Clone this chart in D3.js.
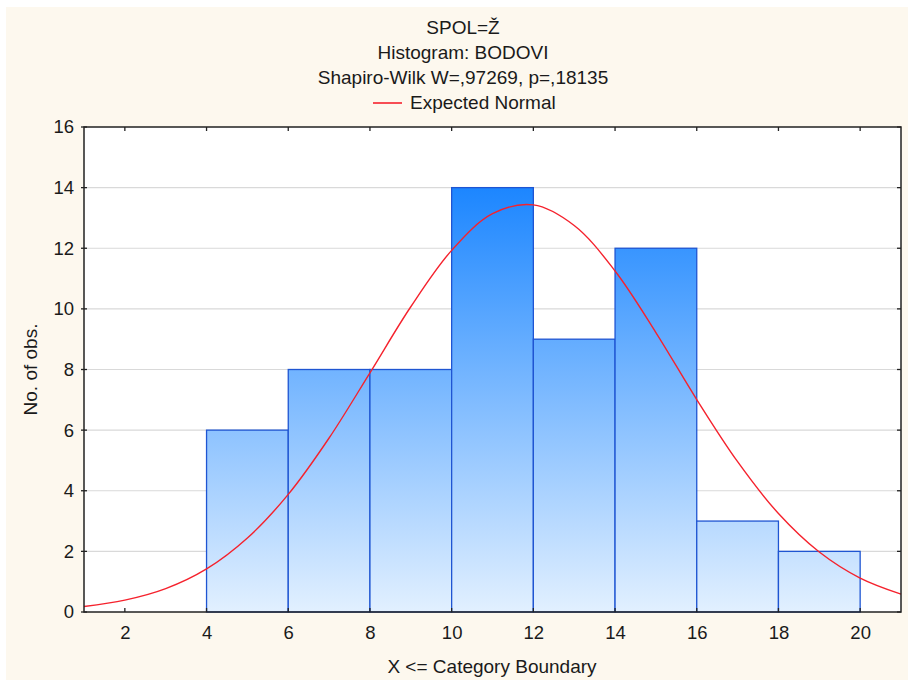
<!DOCTYPE html>
<html>
<head>
<meta charset="utf-8">
<script src="https://cdn.jsdelivr.net/npm/d3@7"></script>
<style>
  html, body { margin: 0; padding: 0; background: #ffffff; }
  svg { display: block; }
  text { font-family: "Liberation Sans", Arial, sans-serif; fill: #1a1a1a; }
</style>
</head>
<body>
<script>
// ---- data ----
const binEdges = [4, 6, 8, 10, 12, 14, 16, 18, 20];
const binCounts = [6, 8, 8, 14, 9, 12, 3, 2];
const curveX = [1, 2, 3, 4, 5, 6, 7, 8, 9, 10, 11, 12, 13, 14, 15, 16, 17, 18, 19, 20, 21];
const curveY = [0.18, 0.39, 0.77, 1.42, 2.44, 3.88, 5.74, 7.89, 10.07, 11.93, 13.14, 13.43, 12.75, 11.25, 9.22, 7.01, 4.96, 3.25, 1.98, 1.12, 0.59];
const xTicks = [2, 4, 6, 8, 10, 12, 14, 16, 18, 20];
const yTicks = [0, 2, 4, 6, 8, 10, 12, 14, 16];
const titleLines = ["SPOL=Ž", "Histogram: BODOVI", "Shapiro-Wilk W=,97269, p=,18135"];
const legendLabel = "Expected Normal";
const xLabel = "X <= Category Boundary";
const yLabel = "No. of obs.";

const W = 908, H = 680;
const plot = { left: 84, top: 127, right: 901, bottom: 612 };

const svg = d3.select("body").append("svg").attr("width", W).attr("height", H);

// background
svg.append("rect").attr("x", 0).attr("y", 0).attr("width", W).attr("height", H).attr("fill", "#ffffff");
svg.append("rect").attr("x", 6).attr("y", 7).attr("width", W - 6).attr("height", H - 7).attr("fill", "#fdf8ee");

const x = d3.scaleLinear().domain([1, 21]).range([plot.left, plot.right]);
const y = d3.scaleLinear().domain([0, 16]).range([plot.bottom, plot.top]);

// plot area
svg.append("rect").attr("x", plot.left).attr("y", plot.top)
  .attr("width", plot.right - plot.left).attr("height", plot.bottom - plot.top)
  .attr("fill", "#ffffff");

// gradient
const defs = svg.append("defs");
const grad = defs.append("linearGradient").attr("id", "barGrad")
  .attr("gradientUnits", "userSpaceOnUse")
  .attr("x1", 0).attr("x2", 0).attr("y1", y(14)).attr("y2", y(0));
grad.append("stop").attr("offset", "0%").attr("stop-color", "#1c86ff");
grad.append("stop").attr("offset", "100%").attr("stop-color", "#e2f0ff");

// grid lines
svg.append("g").selectAll("line").data(yTicks.filter(d => d > 0 && d < 16)).join("line")
  .attr("x1", plot.left).attr("x2", plot.right)
  .attr("y1", d => y(d)).attr("y2", d => y(d))
  .attr("stroke", "#d9d9d9").attr("stroke-width", 1.2);

// bars
const bins = binCounts.map((c, i) => ({ x0: binEdges[i], x1: binEdges[i + 1], c }));
svg.append("g").selectAll("rect").data(bins).join("rect")
  .attr("x", d => x(d.x0)).attr("y", d => y(d.c))
  .attr("width", d => x(d.x1) - x(d.x0)).attr("height", d => y(0) - y(d.c))
  .attr("fill", "url(#barGrad)")
  .attr("stroke", "#1f55d2").attr("stroke-width", 1.3);

// normal curve
const pts = curveX.map((v, i) => [v, curveY[i]]);
const line = d3.line().x(d => x(d[0])).y(d => y(d[1])).curve(d3.curveCatmullRom);
svg.append("path").datum(pts).attr("d", line)
  .attr("fill", "none").attr("stroke", "#f5222d").attr("stroke-width", 1.4);

// frame
svg.append("rect").attr("x", plot.left).attr("y", plot.top)
  .attr("width", plot.right - plot.left).attr("height", plot.bottom - plot.top)
  .attr("fill", "none").attr("stroke", "#222").attr("stroke-width", 1.5);

// axes
const xAxis = svg.append("g").attr("transform", `translate(0,${plot.bottom})`)
  .call(d3.axisBottom(x).tickValues(xTicks).tickSize(0).tickPadding(14));
xAxis.select(".domain").remove();
xAxis.selectAll("text").attr("font-size", 18.5).style("font-family", "Liberation Sans, Arial, sans-serif").attr("fill", "#1a1a1a");
svg.append("g").selectAll("line").data(xTicks).join("line")
  .attr("x1", d => x(d)).attr("x2", d => x(d)).attr("y1", plot.bottom).attr("y2", plot.bottom - 4)
  .attr("stroke", "#222").attr("stroke-width", 1.3);
svg.append("g").selectAll("line").data(xTicks).join("line")
  .attr("x1", d => x(d)).attr("x2", d => x(d)).attr("y1", plot.top).attr("y2", plot.top + 4)
  .attr("stroke", "#222").attr("stroke-width", 1.3);

const yAxis = svg.append("g").attr("transform", `translate(${plot.left},0)`)
  .call(d3.axisLeft(y).tickValues(yTicks).tickSize(0).tickPadding(10));
yAxis.select(".domain").remove();
yAxis.selectAll("text").attr("font-size", 18.5).style("font-family", "Liberation Sans, Arial, sans-serif").attr("fill", "#1a1a1a");
svg.append("g").selectAll("line").data(yTicks).join("line")
  .attr("x1", plot.left - 3).attr("x2", plot.left + 3).attr("y1", d => y(d)).attr("y2", d => y(d))
  .attr("stroke", "#222").attr("stroke-width", 1.3);
svg.append("g").selectAll("line").data(yTicks).join("line")
  .attr("x1", plot.right - 4).attr("x2", plot.right).attr("y1", d => y(d)).attr("y2", d => y(d))
  .attr("stroke", "#222").attr("stroke-width", 1.3);

// titles
const cx = 463;
titleLines.forEach((t, i) => {
  svg.append("text").attr("x", cx).attr("y", 34 + i * 25)
    .attr("text-anchor", "middle").attr("font-size", 19).text(t);
});
// legend
svg.append("line").attr("x1", 373).attr("x2", 402).attr("y1", 103).attr("y2", 103)
  .attr("stroke", "#f5222d").attr("stroke-width", 1.6);
svg.append("text").attr("x", 410).attr("y", 109).attr("font-size", 19).text(legendLabel);

// axis labels
svg.append("text").attr("x", 492).attr("y", 673)
  .attr("text-anchor", "middle").attr("font-size", 19).text(xLabel);
svg.append("text").attr("transform", `translate(37,${(plot.top + plot.bottom) / 2}) rotate(-90)`)
  .attr("text-anchor", "middle").attr("font-size", 19).text(yLabel);
</script>
</body>
</html>
